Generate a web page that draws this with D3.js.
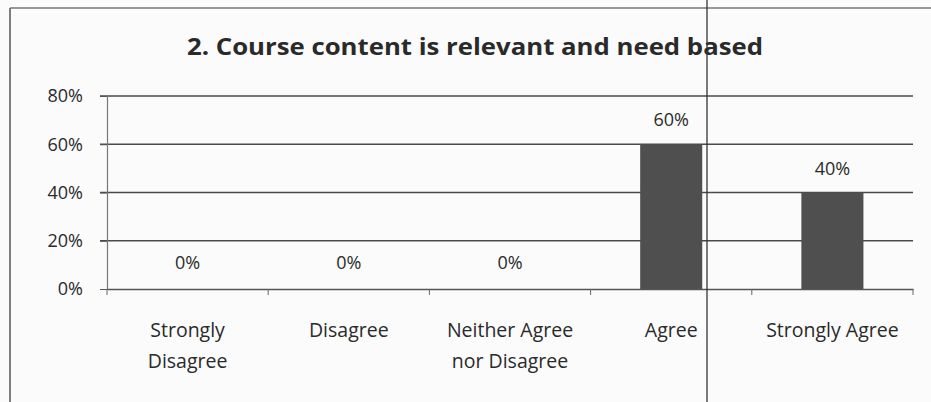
<!DOCTYPE html>
<html><head><meta charset="utf-8">
<script src="https://cdn.jsdelivr.net/npm/d3@7"></script>
<style>
html,body{margin:0;padding:0;background:#fbfbfb;}
svg{display:block;}
text{font-family:"Open Sans",Lato,sans-serif;fill:#2a2a2a;}
</style></head>
<body>
<svg id="chart" width="931" height="402"></svg>
<script>
const title = "2. Course content is relevant and need based";
const categories = ["Strongly Disagree","Disagree","Neither Agree nor Disagree","Agree","Strongly Agree"];
const categoryLines = [["Strongly","Disagree"],["Disagree"],["Neither Agree","nor Disagree"],["Agree"],["Strongly Agree"]];
const values = [0, 0, 0, 0.6, 0.4];
const yTicks = [0, 0.2, 0.4, 0.6, 0.8];

const svg = d3.select("#chart");
const W = 931, H = 402;
const m = {left:107, right:18, top:96, bottom:113};
const x = d3.scaleBand().domain(categories).range([m.left, W - m.right]).paddingInner(0.615).paddingOuter(0.3075);
const xb = d3.scaleBand().domain(categories).range([m.left, W - m.right]);
const y = d3.scaleLinear().domain([0, 0.8]).range([H - m.bottom, m.top]);

// outer chart border (scan)
svg.append("line").attr("x1",10).attr("x2",10).attr("y1",8).attr("y2",H).attr("stroke","#555").attr("stroke-width",1.5);
svg.append("line").attr("x1",10).attr("x2",W).attr("y1",8).attr("y2",8).attr("stroke","#777").attr("stroke-width",1.5);

// title
svg.append("text").attr("x",475).attr("y",55).attr("text-anchor","middle")
  .attr("font-size",23).attr("font-weight","bold").attr("textLength",576).attr("lengthAdjust","spacingAndGlyphs")
  .attr("fill","#1a1a1a")
  .text(title);

// gridlines
svg.append("g").selectAll("line").data(yTicks.filter(d=>d>0)).join("line")
  .attr("x1",m.left-7).attr("x2",W-m.right).attr("y1",d=>y(d)).attr("y2",d=>y(d))
  .attr("stroke","#4a4a4a").attr("stroke-width",1.6);

// y axis
const yAxis = svg.append("g").attr("transform",`translate(${m.left},0)`)
  .call(d3.axisLeft(y).tickValues(yTicks).tickFormat(d3.format(".0%")).tickSize(7).tickPadding(17));
yAxis.select(".domain").attr("stroke","#777").attr("stroke-width",1.2);
yAxis.selectAll(".tick line").attr("stroke","#555");
yAxis.selectAll("text").attr("font-size",18).attr("fill","#333").attr("font-family","'Open Sans',sans-serif");

// bars
svg.append("g").selectAll("rect").data(values.map((v,i)=>({c:categories[i],v}))).join("rect")
  .attr("x",d=>x(d.c)).attr("width",x.bandwidth())
  .attr("y",d=>y(d.v)).attr("height",d=>y(0)-y(d.v))
  .attr("fill","#4f4f4f");

// x axis
const xAxis = svg.append("g").attr("transform",`translate(0,${y(0)})`)
  .call(d3.axisBottom(xb).tickSize(0).tickFormat(""));
xAxis.select(".domain").attr("stroke","#555").attr("stroke-width",1.6);
xAxis.selectAll(".tick").remove();
const bounds = categories.map(c=>xb(c)).concat([xb(categories[categories.length-1])+xb.bandwidth()]);
svg.append("g").selectAll("line").data(bounds).join("line")
  .attr("x1",d=>d).attr("x2",d=>d).attr("y1",y(0)).attr("y2",y(0)+6)
  .attr("stroke","#666").attr("stroke-width",1);

// value labels
svg.append("g").selectAll("text").data(values.map((v,i)=>({c:categories[i],v}))).join("text")
  .attr("x",d=>xb(d.c)+xb.bandwidth()/2)
  .attr("y",d=>d.v>0 ? y(d.v)-18 : y(0)-20)
  .attr("text-anchor","middle").attr("font-size",18).attr("fill","#333")
  .text(d=>d3.format(".0%")(d.v));

// category labels
const cl = svg.append("g").selectAll("text").data(categories).join("text")
  .attr("text-anchor","middle").attr("font-size",19.5).attr("fill","#2a2a2a");
cl.each(function(c,i){
  const t = d3.select(this);
  categoryLines[i].forEach((ln,j)=>{
    t.append("tspan").attr("x",xb(c)+xb.bandwidth()/2).attr("y",y(0)+48+j*31).text(ln);
  });
});

// scan fold line
svg.append("line").attr("x1",707).attr("x2",707).attr("y1",0).attr("y2",H).attr("stroke","#333").attr("stroke-width",1.3);
</script>
</body></html>
